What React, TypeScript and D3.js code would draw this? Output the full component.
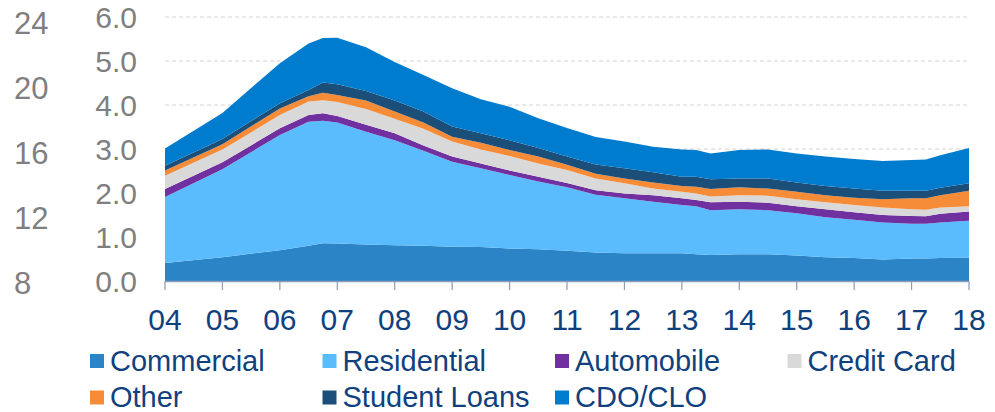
import React from 'react';
import * as d3 from 'd3';

// quarter / half-year observation dates (decimal years)
const dates = [
  2004, 2005, 2006, 2006.5, 2006.75, 2007, 2007.5, 2008, 2008.5, 2009, 2009.5,
  2010, 2010.5, 2011, 2011.5, 2012, 2012.5, 2013, 2013.25, 2013.5, 2014, 2014.5,
  2015, 2015.5, 2016, 2016.5, 2017, 2017.25, 2017.5, 2018,
];

const commercial = [
  0.41, 0.54, 0.70, 0.80, 0.86, 0.85, 0.83, 0.81, 0.80, 0.78, 0.77,
  0.74, 0.72, 0.69, 0.65, 0.63, 0.63, 0.63, 0.61, 0.59, 0.61, 0.61,
  0.58, 0.54, 0.52, 0.49, 0.51, 0.51, 0.52, 0.53,
];
const residential = [
  1.50, 2.00, 2.62, 2.82, 2.78, 2.75, 2.56, 2.39, 2.16, 1.93, 1.79,
  1.67, 1.54, 1.44, 1.31, 1.25, 1.17, 1.10, 1.09, 1.02, 1.02, 1.00,
  0.96, 0.91, 0.87, 0.84, 0.79, 0.79, 0.81, 0.84,
];
const automobile = [
  0.18, 0.16, 0.15, 0.15, 0.17, 0.15, 0.16, 0.16, 0.12, 0.12, 0.11,
  0.10, 0.11, 0.10, 0.10, 0.11, 0.15, 0.15, 0.14, 0.18, 0.17, 0.17,
  0.16, 0.18, 0.17, 0.17, 0.18, 0.17, 0.20, 0.21,
];
const creditCard = [
  0.30, 0.29, 0.30, 0.31, 0.30, 0.32, 0.36, 0.33, 0.38, 0.34, 0.32,
  0.33, 0.30, 0.29, 0.27, 0.23, 0.15, 0.15, 0.15, 0.13, 0.15, 0.16,
  0.16, 0.16, 0.17, 0.17, 0.15, 0.15, 0.14, 0.12,
];
const other = [
  0.12, 0.12, 0.15, 0.12, 0.17, 0.16, 0.19, 0.16, 0.14, 0.11, 0.15,
  0.14, 0.16, 0.12, 0.11, 0.11, 0.14, 0.13, 0.15, 0.17, 0.18, 0.16,
  0.17, 0.16, 0.16, 0.19, 0.25, 0.26, 0.28, 0.35,
];
const studentLoans = [
  0.11, 0.12, 0.12, 0.14, 0.23, 0.24, 0.22, 0.25, 0.25, 0.23, 0.22,
  0.22, 0.19, 0.19, 0.21, 0.23, 0.23, 0.21, 0.23, 0.22, 0.20, 0.23,
  0.21, 0.21, 0.21, 0.19, 0.17, 0.17, 0.17, 0.17,
];
const cdoClo = [
  0.39, 0.59, 0.91, 1.06, 1.01, 1.06, 0.99, 0.88, 0.83, 0.87, 0.77,
  0.76, 0.68, 0.65, 0.62, 0.61, 0.58, 0.62, 0.61, 0.59, 0.65, 0.66,
  0.66, 0.67, 0.67, 0.68, 0.70, 0.71, 0.74, 0.80,
];

const seriesNames = ['Commercial', 'Residential', 'Automobile', 'Credit Card', 'Other', 'Student Loans', 'CDO/CLO'];
const seriesValues = [commercial, residential, automobile, creditCard, other, studentLoans, cdoClo];
const seriesColors = ['#2a84c6', '#5bbcfd', '#7030a0', '#d9d9d9', '#f68b38', '#1b4f7a', '#007ccf'];

// legend is laid out row by row in this order
const legendOrder = ['Commercial', 'Residential', 'Automobile', 'Credit Card', 'Other', 'Student Loans', 'CDO/CLO'];

const yTicks = [0, 1, 2, 3, 4, 5, 6];
const leftTicks = [8, 12, 16, 20, 24];
const yearTicks = d3.range(2004, 2019);

const W = 995;
const H = 412;
const FONT = '"Liberation Sans", Arial, sans-serif';

export default function App() {
  const x = d3.scaleLinear().domain([2004, 2018]).range([165, 969]);
  const y = d3.scaleLinear().domain([0, 6]).range([281, 17]);
  const yLeft = d3.scaleLinear().domain([8, 24]).range([283, 23]);

  const rows = dates.map((d, i) => {
    const r: any = { date: d };
    seriesNames.forEach((name, k) => (r[name] = seriesValues[k][i]));
    return r;
  });
  const stacked = d3.stack<any>().keys(seriesNames)(rows);

  const area = d3
    .area<any>()
    .x((d) => x(d.data.date))
    .y0((d) => y(d[0]))
    .y1((d) => y(d[1]))
    .curve(d3.curveLinear);

  const colorOf = d3.scaleOrdinal<string, string>().domain(seriesNames).range(seriesColors);

  return (
    <svg
      width={W}
      height={H}
      style={{ position: 'absolute', left: 0, top: 0, background: '#fff' }}
      fontFamily={FONT}
    >
      {/* gridlines */}
      <g>
        {yTicks.slice(1).map((t) => (
          <line
            key={t}
            x1={x(2004)}
            x2={x(2018)}
            y1={y(t)}
            y2={y(t)}
            stroke="#d4d4d4"
            strokeWidth={1}
            strokeDasharray="4,3"
          />
        ))}
      </g>

      {/* stacked areas */}
      <g>
        {stacked.map((s) => (
          <path key={s.key} d={area(s) || ''} fill={colorOf(s.key)} />
        ))}
      </g>

      {/* x axis */}
      <g>
        <line x1={x(2004)} x2={x(2018)} y1={281.5} y2={281.5} stroke="#8c9cb8" strokeWidth={1.5} />
        {yearTicks.map((t) => (
          <g key={t}>
            <line x1={x(t)} x2={x(t)} y1={281} y2={290} stroke="#8c9cb8" strokeWidth={1.2} />
            <text x={x(t)} y={330} textAnchor="middle" fontSize={30} fill="#0f417f">
              {String(t % 100).padStart(2, '0')}
            </text>
          </g>
        ))}
      </g>

      {/* right value axis labels */}
      <g>
        {yTicks.map((t) => (
          <text key={t} x={137} y={y(t)} dy="0.35em" textAnchor="end" fontSize={30} fill="#7f7f7f">
            {t.toFixed(1)}
          </text>
        ))}
      </g>

      {/* left secondary labels */}
      <g>
        {leftTicks.map((t) => (
          <text key={t} x={14} y={yLeft(t)} dy="0.35em" fontSize={31} fill="#7f7f7f">
            {t}
          </text>
        ))}
      </g>

      {/* legend */}
      <g>
        {legendOrder.map((name, i) => {
          const col = i % 4;
          const row = Math.floor(i / 4);
          const lx = 90 + col * 232.5;
          const ly = 370.5 + row * 36.5;
          return (
            <g key={name}>
              <rect x={lx} y={ly - 16.5} width={14} height={14} fill={colorOf(name)} />
              <text x={lx + 20} y={ly} fontSize={29} fill="#0f417f">
                {name}
              </text>
            </g>
          );
        })}
      </g>
    </svg>
  );
}
